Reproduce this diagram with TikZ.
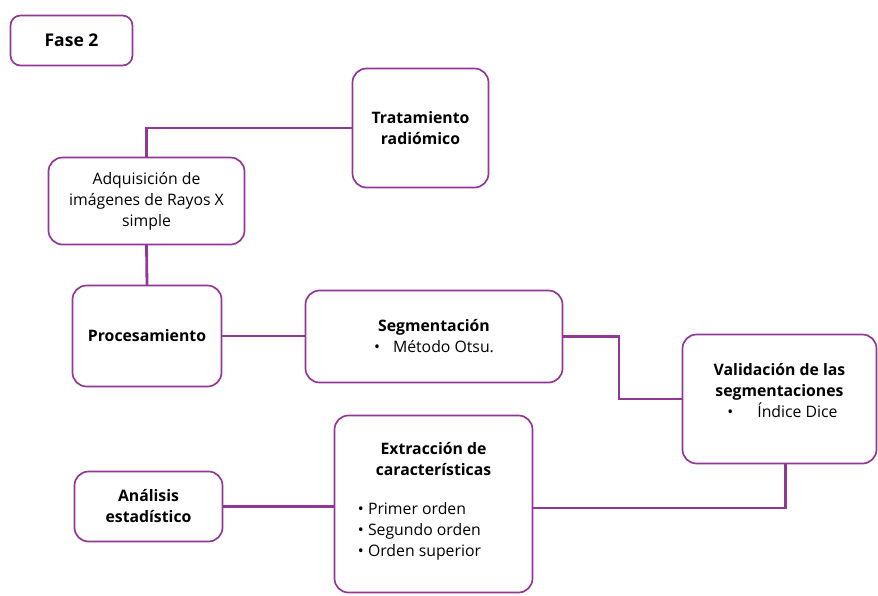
\documentclass[tikz,border=0pt]{standalone}
\usepackage{fontspec}
\setmainfont{Open Sans}
\usetikzlibrary{calc}

\definecolor{mypurple}{RGB}{145,55,150}

\begin{document}
\begin{tikzpicture}[x=1pt, y=-1pt,
        every node/.style={rectangle, draw=mypurple, line width=1.7pt,
        rounded corners=14pt, inner sep=0pt, outer sep=0pt, align=center,
        font=\fontsize{15.8}{21}\selectfont},
        link/.style={draw=mypurple, line width=2.8pt, line join=miter}
        ]
    \useasboundingbox (0,0) rectangle (878,595);
            \node[minimum width=122, minimum height=50, rounded corners=10pt, font=\fontsize{17.5}{21}\selectfont] (n_fase) at (71.5,40.5) {\textbf{Fase 2}};
            \node[minimum width=136, minimum height=119] (n_trat) at (420.5,128) {\textbf{Tratamiento}\\\textbf{radiómico}};
            \node[minimum width=196, minimum height=87] (n_adq) at (146.5,201) {Adquisición de\\imágenes de Rayos X\\simple};
            \node[minimum width=149, minimum height=101] (n_proc) at (147,336) {\textbf{Procesamiento}};
            \node[minimum width=257, minimum height=92] (n_seg) at (434,336.5) {\textbf{Segmentación}\\\textbullet\hspace{13pt}Método Otsu.};
            \node[minimum width=194, minimum height=129, text depth=18pt] (n_val) at (779.5,399) {\textbf{Validación de las}\\\textbf{segmentaciones}\\\hspace*{6pt}\textbullet\hspace{24pt}Índice Dice};
            \node[minimum width=198, minimum height=177, text depth=31pt] (n_ext) at (433.5,504) {\textbf{Extracción de}\\\textbf{características}\\[23pt]
                \begin{tabular}{@{}l@{\hspace{28pt}}}\textbullet~Primer orden\\\textbullet~Segundo orden\\\textbullet~Orden superior\end{tabular}};
            \node[minimum width=148, minimum height=70] (n_ana) at (148.5,506.5) {\textbf{Análisis}\\\textbf{estadístico}};
    \coordinate (c_sv) at (619,370);
    \draw [link] (n_adq.north) |- (n_trat.west);
    \draw [link] (n_adq.south) -- (n_proc.north);
    \draw [link] (n_proc.east) -- (n_proc.east -| n_seg.west);
    \draw [link] (n_seg.east) -| (c_sv) |- (n_val.west);
    \draw [link] ([xshift=6pt]n_val.south) |- ([yshift=-4pt]n_ext.east);
    \draw [link] (n_ana.east) -- (n_ana.east -| n_ext.west);
\end{tikzpicture}
\end{document}
